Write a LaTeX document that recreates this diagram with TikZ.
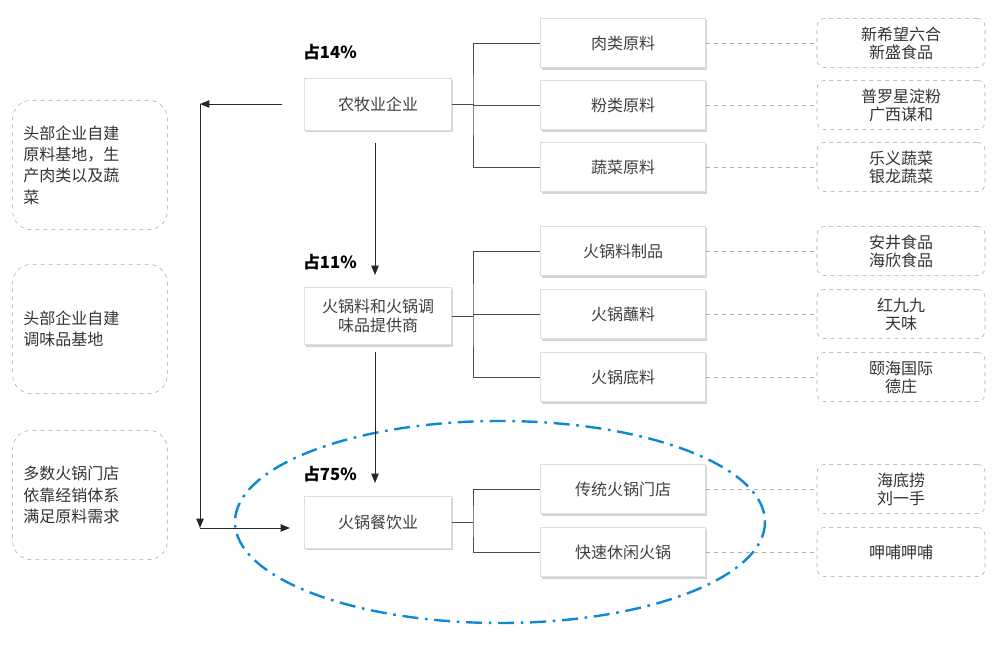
\documentclass[tikz,border=0pt]{standalone}
\usepackage{fontspec}
\setmainfont{Noto Sans CJK SC}
\usetikzlibrary{shadows,arrows.meta}
\begin{document}
\begin{tikzpicture}[x=0.75pt,y=-0.75pt,
 mbox/.style={draw=gray!25,fill=white,drop shadow={shadow xshift=1pt,shadow yshift=-1.5pt,opacity=0.35},minimum width=110pt,inner sep=0pt,font=\fontsize{12}{14.5}\selectfont,text=black!75,align=center},
 sbox/.style={draw=gray!25,fill=white,drop shadow={shadow xshift=1pt,shadow yshift=-1.5pt,opacity=0.35},minimum width=124pt,minimum height=37pt,font=\fontsize{12}{14}\selectfont,text=black!75},
 rbox/.style={draw=gray!70,dashed,rounded corners=6pt,minimum width=126pt,minimum height=37pt,align=center,font=\fontsize{12}{13.5}\selectfont,text=black!80,inner sep=1pt},
 lbox/.style={draw=gray!70,dashed,rounded corners=14pt,minimum width=116pt,minimum height=97pt,align=left,font=\fontsize{12}{16}\selectfont,text=black!80,text width=100pt},
 pct/.style={font=\bfseries\fontsize{12.5}{14}\selectfont},
 tl/.style={draw=black!70,line width=0.6pt},
 dl/.style={draw=gray!60,dashed,line width=0.5pt},
 ar/.style={-{Triangle[length=7pt,width=5.5pt]},line width=0.7pt,black!85}]
\useasboundingbox (0,0) rectangle (1003,648);
\draw[cyan!70!blue,line width=1.8pt,dash pattern=on 12pt off 5pt on 2pt off 5pt] (500,522) ellipse [x radius=265,y radius=101];
\node[lbox] (l1) at (90,165) {头部企业自建\\原料基地，生\\产肉类以及蔬\\菜};
\node[lbox] (l2) at (90,329) {头部企业自建\\调味品基地};
\node[lbox] (l3) at (90,495) {多数火锅门店\\依靠经销体系\\满足原料需求};
\node[mbox,minimum height=39pt] (a) at (378,104) {农牧业企业};
\node[mbox,minimum height=43pt] (b) at (378,316) {火锅料和火锅调\\味品提供商};
\node[mbox,minimum height=39pt] (c) at (378,522) {火锅餐饮业};
\node[pct] (p1) at (330,52) {占14\%};
\node[pct] (p2) at (330,262) {占11\%};
\node[pct] (p3) at (330,474) {占75\%};
\foreach \n/\y/\t in {s1/43/肉类原料,s2/105/粉类原料,s3/167/蔬菜原料,s4/251/火锅料制品,s5/314/火锅蘸料,s6/377/火锅底料,s7/489/传统火锅门店,s8/552/快速休闲火锅}
  \node[sbox] (\n) at (623,\y) {\t};
\foreach \n/\y/\t in {r1/43/新希望六合\\新盛食品,r2/105/普罗星淀粉\\广西谋和,r3/167/乐义蔬菜\\银龙蔬菜,r4/251/安井食品\\海欣食品,r5/314/红九九\\天味,r6/377/颐海国际\\德庄,r7/489/海底捞\\刘一手,r8/552/呷哺呷哺}
  \node[rbox] (\n) at (901,\y) {\t};
\foreach \i in {1,...,8} \draw[dl] (s\i.east) -- (r\i.west);
\coordinate (j1) at (473,104);\coordinate (j2) at (473,316);\coordinate (j3) at (473,522);
\draw[tl] (a.east) -- (j1); \draw[tl] (s1.west) -| (j1) |- (s3.west); \draw[tl] (j1) |- (s2.west);
\draw[tl] (b.east) -- (j2); \draw[tl] (s4.west) -| (j2) |- (s6.west); \draw[tl] (j2) |- (s5.west);
\draw[tl] (c.east) -- (j3); \draw[tl] (s7.west) -| (j3) |- (s8.west);
\draw[ar] (375,143) -- (375,275);
\draw[ar] (375,352) -- (375,483);
\coordinate (t) at (200,104); \coordinate (bt) at (200,528);
\draw[ar] (282,104) -- (t);
\draw[ar] (t) -- (bt);
\draw[ar] (bt) -- (290,528);
\end{tikzpicture}
\end{document}
